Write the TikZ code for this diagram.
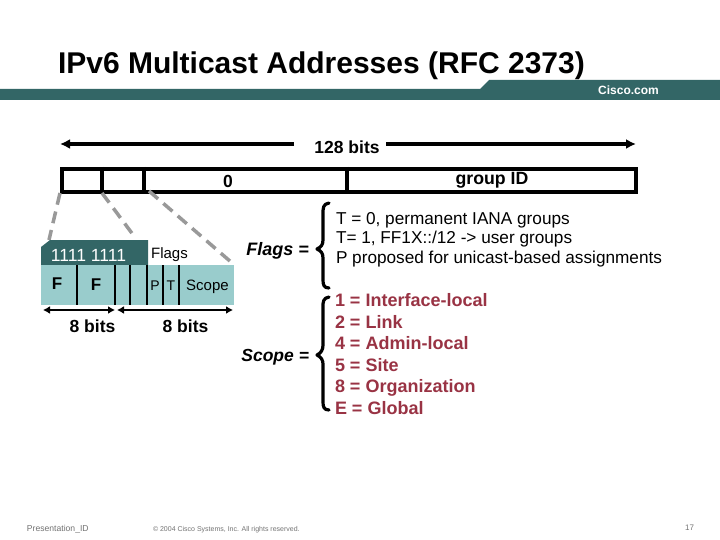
\documentclass[tikz,border=0pt]{standalone}
\usepackage{fontspec}
\setmainfont{Liberation Sans}
\usetikzlibrary{arrows.meta}
\definecolor{darkteal}{HTML}{336666}
\definecolor{lightteal}{HTML}{99CCCC}
\definecolor{crimson}{HTML}{993344}
\definecolor{dashgrey}{HTML}{999999}
\tikzset{
  lbl/.style={inner sep=0pt,outer sep=0pt,font=\fontsize{#1}{#1}\selectfont},
  lbl/.default=12,
  blk/.style={line width=3.5pt,black},
  vbar/.style={line width=2.5pt,black},
  dimarrow/.style={line width=3.5pt,black,-{Latex[length=10pt,width=10pt]}},
  tinyarrow/.style={line width=2.2pt,black,{Latex[length=7pt,width=8pt]}-{Latex[length=7pt,width=8pt]}},
  gdash/.style={line width=3.5pt,dashgrey,dash pattern=on 12pt off 7pt},
  brace/.style={line width=3.2pt,black,line cap=round,line join=round},
  foot/.style={inner sep=0pt,text=black!55}
}
\begin{document}
\begin{tikzpicture}[x=1pt,y=-1pt]
\useasboundingbox (0,0) rectangle (720,540);
\fill[white] (0,0) rectangle (720,540);
% header
\fill[darkteal] (0,89) -- (480,89) -- (489,80) -- (720,80) -- (720,100) -- (0,100) -- cycle;
\node[lbl=30,anchor=west,text=black] (title) at (58,66) {\textbf{IPv6 Multicast Addresses (RFC 2373)}};
\node[lbl=12,anchor=center,text=white] (cisco) at (628.5,90.5) {\textbf{Cisco.com}};
% 128 bits
\node[lbl=17.5,anchor=center] (bits) at (347,147) {\textbf{128 bits}};
\coordinate (al) at (60,144);
\coordinate (ar) at (636,144);
\draw[dimarrow] (294,144) -- (al);
\draw[dimarrow] (386,144) -- (ar);
% address bar
\node[draw=black,line width=4pt,minimum width=574pt,minimum height=23pt,inner sep=0pt,anchor=north west] (addr) at (60,167) {};
\draw[blk] (102,167) -- (102,192);
\draw[blk] (144,167) -- (144,192);
\draw[blk] (347,167) -- (347,192);
\node[lbl=17.5,anchor=center] (zero) at (228,181) {\textbf{0}};
\node[lbl=17.7,anchor=center] (gid) at (492,180) {\textbf{group ID}};
% dashes
\coordinate (d1a) at (60,193); \coordinate (d1b) at (49,240);
\coordinate (d2a) at (102,193); \coordinate (d2b) at (134,236);
\coordinate (d3a) at (149,191); \coordinate (d3b) at (231,262);
\draw[gdash] (d1a) -- (d1b);
\draw[gdash] (d2a) -- (d2b);
\draw[gdash] (d3a) -- (d3b);
% detail boxes
\fill[darkteal] (41,247) -- (50,240) -- (148,240) -- (148,265) -- (41,265) -- cycle;
\fill[lightteal] (41,265) rectangle (234,305);
\node[lbl=17.6,anchor=center,text=white] (ones) at (88.5,255) {1111 1111};
\node[lbl=15,anchor=center] (flagsw) at (169.5,255) {Flags};
\foreach \x in {77,115,130,147,163,179} \draw[vbar] (\x,265) -- (\x,304.5);
\node[lbl=17,anchor=center] (f1) at (57,284) {\textbf{F}};
\node[lbl=17,anchor=center] (f2) at (96,285) {\textbf{F}};
\node[lbl=14,anchor=center] (p) at (155,286) {P};
\node[lbl=14,anchor=center] (t) at (171,286) {T};
\node[lbl=15,anchor=center] (scope) at (207.5,287) {Scope};
\coordinate (b1) at (43,310); \coordinate (b2) at (115,310);
\coordinate (b3) at (117,310); \coordinate (b4) at (233,310);
\draw[tinyarrow] (b1) -- (b2);
\draw[tinyarrow] (b3) -- (b4);
\node[lbl=17.5,anchor=center] (b8a) at (92.5,326) {\textbf{8 bits}};
\node[lbl=17.5,anchor=center] (b8b) at (185.5,326) {\textbf{8 bits}};
% flags
\node[lbl=18,anchor=east] (flagseq) at (309,250.5) {\textit{\textbf{Flags =}}};
\draw[brace] (329,203) .. controls (323,204) and (323,208) .. (323,214) -- (323,240) .. controls (323,245) and (321,247) .. (317,249) .. controls (321,251) and (323,253) .. (323,258) -- (323,280) .. controls (323,285) and (324,288) .. (329,288);
\node[lbl=17.2,anchor=north west,align=left] (flagtxt) at (336,212) {T = 0, permanent IANA groups\\[2.3pt]T= 1, FF1X::/12 -> user groups\\[2.3pt]P proposed for unicast-based assignments};
% scope
\node[lbl=17.5,anchor=east] (scopeeq) at (309,357) {\textit{\textbf{Scope =}}};
\draw[brace] (329,297) .. controls (323,298) and (323,302) .. (323,307) -- (323,345) .. controls (323,350) and (321,353) .. (317,355) .. controls (321,357) and (323,360) .. (323,364) -- (323,402) .. controls (323,407) and (324,410) .. (329,410);
\node[lbl=18,anchor=north west,align=left,text=crimson] (scopetxt) at (335,293.5) {\textbf{1 = Interface-local}\\[3.6pt]\textbf{2 = Link}\\[3.6pt]\textbf{4 = Admin-local}\\[3.6pt]\textbf{5 = Site}\\[3.6pt]\textbf{8 = Organization}\\[3.6pt]\textbf{E = Global}};
% footer
\node[foot,lbl=8.6,text=black!55,anchor=west] (pid) at (27,529) {Presentation\_ID};
\node[foot,lbl=7,text=black!55,anchor=west] (copy) at (153,530) {© 2004 Cisco Systems, Inc. All rights reserved.};
\node[foot,lbl=8,text=black!55,anchor=east] (pg) at (694,528) {17};
\end{tikzpicture}
\end{document}
